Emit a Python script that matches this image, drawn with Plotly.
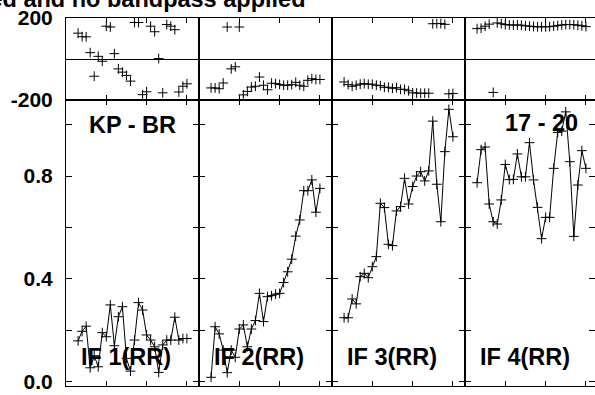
import plotly.graph_objects as go

# ---------------- data ----------------
channels = list(range(3, 31))
if_labels = ["IF 1(RR)", "IF 2(RR)", "IF 3(RR)", "IF 4(RR)"]

amp_if1 = [0.158, 0.195, 0.215, 0.053, 0.100, 0.057, 0.190, 0.174, 0.298, 0.139,
           0.252, 0.291, 0.090, 0.040, 0.161, 0.307, 0.278, 0.181, 0.161, 0.135,
           0.035, 0.142, 0.161, 0.161, 0.250, 0.161, 0.167, 0.167]
amp_if2 = [0.016, 0.213, 0.185, 0.122, 0.034, 0.122, 0.094, 0.204, 0.220, 0.135,
           0.204, 0.237, 0.343, 0.233, 0.330, 0.334, 0.340, 0.343, 0.385, 0.427,
           0.476, 0.566, 0.629, 0.743, 0.743, 0.785, 0.659, 0.752]
amp_if3 = [0.248, 0.248, 0.321, 0.302, 0.408, 0.421, 0.404, 0.447, 0.486, 0.694,
           0.677, 0.534, 0.529, 0.664, 0.681, 0.791, 0.691, 0.759, 0.800, 0.817,
           0.781, 0.820, 1.014, 0.768, 0.622, 0.895, 1.060, 0.953]
amp_if4 = [0.774, 0.903, 0.913, 0.691, 0.622, 0.613, 0.707, 0.845, 0.786, 0.787,
           0.886, 0.797, 0.797, 0.930, 0.785, 0.678, 0.556, 0.639, 0.639, 0.830,
           0.970, 0.975, 1.050, 0.856, 0.565, 0.765, 0.899, 0.830]

phase_if1 = [126, 109, 108, 31, -84, 13, -11, 160, 156, 26,
             -48, -64, -80, -108, 178, 178, -174, -160, 160, 133,
             2, -165, 168, 160, 143, -161, -133, -121]
phase_if2 = [-141, -141, -145, -117, 156, -48, -38, 156, -175, -158,
             -137, -133, -88, -128, -150, -118, -120, -124, -128, -128,
             -125, -114, -128, -133, -104, -96, -100, -100]
phase_if3 = [-112, -125, -133, -128, -123, -120, -123, -123, -128, -130,
             -138, -138, -143, -140, -148, -148, -155, -165, -166, -167,
             -167, -167, 172, 173, 173, 169, -170, -168]
phase_if4 = [148, 150, 160, 170, -163, 176, 172, 168, 166, 166,
             166, 165, 162, 160, 158, 157, 157, 157, 158, 160,
             163, 166, 168, 168, 167, 165, 162, 158]

amp_series = [amp_if1, amp_if2, amp_if3, amp_if4]
phase_series = [phase_if1, phase_if2, phase_if3, phase_if4]

amp_ticks = [0.0, 0.2, 0.4, 0.6, 0.8, 1.0]
amp_tick_text = ["0.0", "", "0.4", "", "0.8", ""]
phase_ticks = [-200, 200]
phase_tick_text = ["-200", "200"]
x_ticks = [10, 20, 30]
baseline_label = "KP - BR"
time_label = "17 - 20"
title_text = "Calibrated and no bandpass applied"

# ---------------- layout geometry ----------------
W, H = 595, 395
L, T, B = 66, 18, 9
PW = W - L
PH = H - T - B
PANEL = 133
PHASE_H = 82
amp_top = (PH - PHASE_H) / PH
px_per_unit = 256.7
zero_off = 4.6
amp_range = [-zero_off / px_per_unit, (PH - PHASE_H - zero_off) / px_per_unit]
FONT = "Liberation Sans"

fig = go.Figure()
layout = dict(
    template="none",
    width=W, height=H,
    margin=dict(l=L, r=0, t=T, b=B, pad=0, autoexpand=False),
    paper_bgcolor="white", plot_bgcolor="white",
    showlegend=False,
)

axis_common = dict(showgrid=False, showline=True, linecolor="black", linewidth=1,
                   mirror="allticks", ticks="inside", tickcolor="black", tickwidth=1,
                   automargin=False)

for i in range(4):
    d0 = i * PANEL / PW
    d1 = min((i + 1) * PANEL / PW, 1.0)
    xr = 33.0 * (d1 - d0) * PW / PANEL
    a = i + 1
    p = i + 5
    an = "" if a == 1 else str(a)
    # amplitude axes
    layout["xaxis" + an] = dict(axis_common, domain=[d0, d1], range=[0, xr], anchor="y" + an,
                                tickvals=x_ticks, showticklabels=False, ticklen=5, zeroline=False)
    layout["yaxis" + an] = dict(axis_common, domain=[0, amp_top], range=amp_range, anchor="x" + an,
                                tickvals=amp_ticks, ticktext=amp_tick_text, showticklabels=(i == 0),
                                ticklen=6, zeroline=False, ticklabelstandoff=8,
                                tickfont=dict(family=FONT, size=21, color="black", weight="bold"))
    # phase axes
    layout["xaxis" + str(p)] = dict(axis_common, domain=[d0, d1], range=[0, xr], anchor="y" + str(p),
                                    tickvals=x_ticks, showticklabels=False, ticklen=5, zeroline=False)
    layout["yaxis" + str(p)] = dict(showgrid=False, showline=True, linecolor="black", linewidth=1,
                                    mirror=True, ticks="", domain=[amp_top, 1], range=[-200, 200],
                                    anchor="x" + str(p), tickvals=phase_ticks, ticktext=phase_tick_text,
                                    showticklabels=(i == 0), zeroline=True, zerolinecolor="black",
                                    zerolinewidth=1, ticklabelstandoff=8, automargin=False,
                                    tickfont=dict(family=FONT, size=21, color="black", weight="bold"))

    marker = dict(symbol="cross-thin", size=7, color="black", line=dict(color="black", width=1))
    fig.add_trace(go.Scatter(x=channels, y=amp_series[i], mode="lines+markers",
                             line=dict(color="black", width=1), marker=marker,
                             xaxis="x" + an, yaxis="y" + an, cliponaxis=True))
    fig.add_trace(go.Scatter(x=channels, y=phase_series[i], mode="markers", marker=marker,
                             xaxis="x" + str(p), yaxis="y" + str(p), cliponaxis=True))

def xp(px):
    return (px - L) / PW

def yp(py):
    return (H - B - py) / PH

annotations = [
    dict(text="<b>%s</b>" % title_text, x=xp(307), y=yp(-1), xanchor="right", yanchor="middle"),
    dict(text="<b>%s</b>" % baseline_label, x=xp(132.5), y=yp(125), xanchor="center", yanchor="middle"),
    dict(text="<b>%s</b>" % time_label, x=xp(541), y=yp(123), xanchor="center", yanchor="middle"),
]
for i, lab in enumerate(if_labels):
    annotations.append(dict(text="<b>%s</b>" % lab, x=xp(L + PANEL * i + 13), y=yp(357),
                            xanchor="left", yanchor="middle"))
for an_ in annotations:
    an_.update(xref="paper", yref="paper", showarrow=False,
               font=dict(family=FONT, size=23.5, color="black"))
layout["annotations"] = annotations

fig.update_layout(**layout)
fig.write_html("out.html", config={"displayModeBar": False},
               post_script="document.body.style.margin='0px';document.body.style.overflow='hidden';")
